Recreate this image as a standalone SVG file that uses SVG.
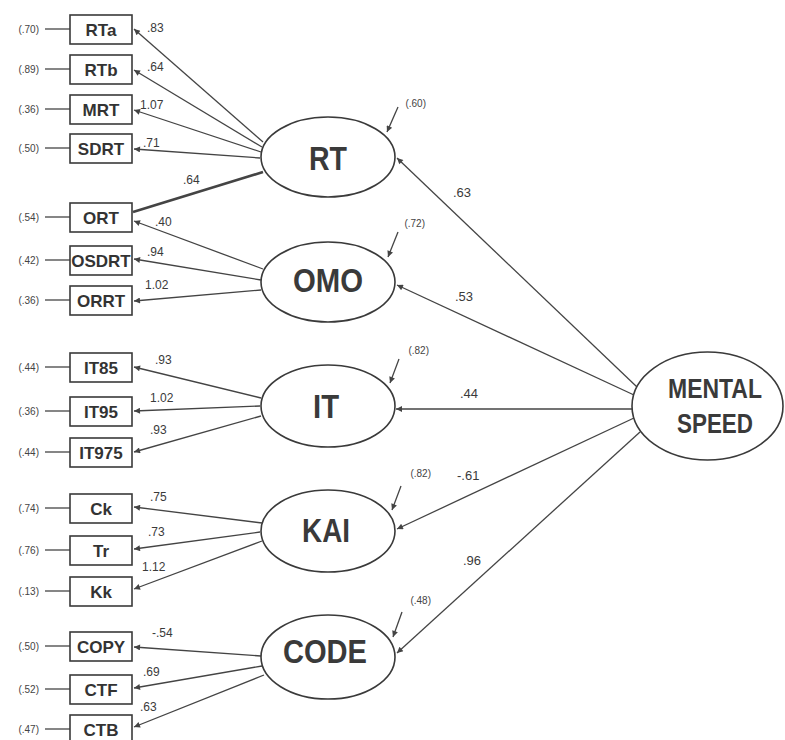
<svg xmlns="http://www.w3.org/2000/svg" width="785" height="740" viewBox="0 0 785 740">
<style>
.box{fill:#fff;stroke:#3a3a3a;stroke-width:1.6}
.lat{fill:#fff;stroke:#3a3a3a;stroke-width:1.6}
.ind{font-family:"Liberation Sans",Arial,sans-serif;font-weight:bold;font-size:17px;fill:#333;text-anchor:middle}
.lt{font-family:"Liberation Sans",Arial,sans-serif;font-weight:bold;font-size:34px;fill:#3a3a3a;text-anchor:middle}
.ms{font-family:"Liberation Sans",Arial,sans-serif;font-weight:bold;font-size:28px;fill:#3a3a3a;text-anchor:middle}
.err{font-family:"Liberation Sans",Arial,sans-serif;font-size:10px;fill:#444;text-anchor:end}
.ld{font-family:"Liberation Sans",Arial,sans-serif;font-size:12px;fill:#3a3a3a}
.sl{font-family:"Liberation Sans",Arial,sans-serif;font-size:13px;fill:#3a3a3a}
.c{stroke:#444;stroke-width:1.3;fill:none}
.a{marker-end:url(#ah)}
</style>
<defs>
<marker id="ah" viewBox="0 0 10 10" refX="10" refY="5" markerWidth="9" markerHeight="6" orient="auto" markerUnits="userSpaceOnUse"><path d="M0,0 L10,5 L0,10 z" fill="#444"/></marker>
</defs>
<rect width="785" height="740" fill="#fff"/>
<g id="connectors">
<!-- error lines -->
<line class="c" x1="45" y1="29" x2="70" y2="29"/>
<line class="c" x1="45" y1="69" x2="70" y2="69"/>
<line class="c" x1="45" y1="109" x2="70" y2="109"/>
<line class="c" x1="45" y1="148" x2="70" y2="148"/>
<line class="c" x1="45" y1="217" x2="70" y2="217"/>
<line class="c" x1="45" y1="260" x2="70" y2="260"/>
<line class="c" x1="45" y1="300" x2="70" y2="300"/>
<line class="c" x1="45" y1="367" x2="70" y2="367"/>
<line class="c" x1="45" y1="411" x2="70" y2="411"/>
<line class="c" x1="45" y1="452" x2="70" y2="452"/>
<line class="c" x1="45" y1="508" x2="70" y2="508"/>
<line class="c" x1="45" y1="550" x2="70" y2="550"/>
<line class="c" x1="45" y1="591" x2="70" y2="591"/>
<line class="c" x1="45" y1="646" x2="70" y2="646"/>
<line class="c" x1="45" y1="689" x2="70" y2="689"/>
<line class="c" x1="45" y1="729" x2="70" y2="729"/>
<!-- RT loadings -->
<line class="c a" x1="263" y1="142" x2="134" y2="29"/>
<line class="c a" x1="262" y1="147" x2="134" y2="70"/>
<line class="c a" x1="261" y1="152" x2="134" y2="110"/>
<line class="c a" x1="260" y1="158" x2="134" y2="149"/>
<line class="c" style="stroke-width:2.6" x1="263" y1="172" x2="133" y2="212"/>
<!-- OMO loadings -->
<line class="c a" x1="263" y1="269" x2="134" y2="221"/>
<line class="c a" x1="261" y1="280" x2="134" y2="259"/>
<line class="c a" x1="261" y1="290" x2="134" y2="301"/>
<!-- IT loadings -->
<line class="c a" x1="261" y1="398" x2="134" y2="367"/>
<line class="c a" x1="260" y1="406" x2="134" y2="411"/>
<line class="c a" x1="261" y1="416" x2="134" y2="452"/>
<!-- KAI loadings -->
<line class="c a" x1="262" y1="523" x2="134" y2="507"/>
<line class="c a" x1="260" y1="532" x2="134" y2="549"/>
<line class="c a" x1="262" y1="541" x2="134" y2="589"/>
<!-- CODE loadings -->
<line class="c a" x1="261" y1="656" x2="134" y2="647"/>
<line class="c a" x1="262" y1="666" x2="134" y2="688"/>
<line class="c a" x1="264" y1="675" x2="134" y2="727"/>
<!-- structural paths -->
<line class="c a" x1="637" y1="387" x2="397" y2="158"/>
<line class="c a" x1="634" y1="395" x2="397" y2="285"/>
<line class="c a" x1="632" y1="409" x2="396" y2="409"/>
<line class="c a" x1="634" y1="418" x2="397" y2="529"/>
<line class="c a" x1="640" y1="432" x2="397" y2="653"/>
<!-- disturbances -->
<line class="c a" x1="398" y1="107" x2="387" y2="132"/>
<line class="c a" x1="398" y1="232" x2="388" y2="257"/>
<line class="c a" x1="399" y1="359" x2="390" y2="383"/>
<line class="c a" x1="401" y1="486" x2="392" y2="510"/>
<line class="c a" x1="402" y1="612" x2="393" y2="637"/>
<!-- loading labels -->
<text class="ld" x="147" y="32">.83</text>
<text class="ld" x="147" y="71">.64</text>
<text class="ld" x="140" y="109">1.07</text>
<text class="ld" x="143" y="147">.71</text>
<text class="ld" x="183" y="184">.64</text>
<text class="ld" x="155" y="226">.40</text>
<text class="ld" x="147" y="256">.94</text>
<text class="ld" x="145" y="289">1.02</text>
<text class="ld" x="155" y="364">.93</text>
<text class="ld" x="150" y="402">1.02</text>
<text class="ld" x="150" y="434">.93</text>
<text class="ld" x="150" y="501">.75</text>
<text class="ld" x="148" y="536">.73</text>
<text class="ld" x="142" y="571">1.12</text>
<text class="ld" x="152" y="637">-.54</text>
<text class="ld" x="143" y="676">.69</text>
<text class="ld" x="140" y="711">.63</text>
<text class="sl" x="453" y="197">.63</text>
<text class="sl" x="455" y="301">.53</text>
<text class="sl" x="460" y="398">.44</text>
<text class="sl" x="457" y="480">-.61</text>
<text class="sl" x="463" y="565">.96</text>
<!-- error and disturbance values -->
<text class="err" x="39" y="33">(.70)</text>
<text class="err" x="39" y="73">(.89)</text>
<text class="err" x="39" y="113">(.36)</text>
<text class="err" x="39" y="152">(.50)</text>
<text class="err" x="39" y="221">(.54)</text>
<text class="err" x="39" y="264">(.42)</text>
<text class="err" x="39" y="304">(.36)</text>
<text class="err" x="39" y="371">(.44)</text>
<text class="err" x="39" y="415">(.36)</text>
<text class="err" x="39" y="456">(.44)</text>
<text class="err" x="39" y="512">(.74)</text>
<text class="err" x="39" y="554">(.76)</text>
<text class="err" x="39" y="595">(.13)</text>
<text class="err" x="39" y="650">(.50)</text>
<text class="err" x="39" y="693">(.52)</text>
<text class="err" x="39" y="733">(.47)</text>
<text class="err" x="426" y="107">(.60)</text>
<text class="err" x="425" y="227">(.72)</text>
<text class="err" x="429" y="354">(.82)</text>
<text class="err" x="431" y="477">(.82)</text>
<text class="err" x="431" y="604">(.48)</text>
</g>
<g id="n-RTa"><rect class="box" x="70" y="15" width="62" height="29"/><text class="ind" x="101" y="35.5">RTa</text></g>
<g id="n-RTb"><rect class="box" x="70" y="55" width="62" height="29"/><text class="ind" x="101" y="75.5">RTb</text></g>
<g id="n-MRT"><rect class="box" x="70" y="95" width="62" height="29"/><text class="ind" x="101" y="115.5">MRT</text></g>
<g id="n-SDRT"><rect class="box" x="70" y="134" width="62" height="29"/><text class="ind" x="101" y="154.5">SDRT</text></g>
<g id="n-ORT"><rect class="box" x="70" y="203" width="62" height="29"/><text class="ind" x="101" y="223.5">ORT</text></g>
<g id="n-OSDRT"><rect class="box" x="70" y="246" width="62" height="29"/><text class="ind" x="101" y="266.5">OSDRT</text></g>
<g id="n-ORRT"><rect class="box" x="70" y="286" width="62" height="29"/><text class="ind" x="101" y="306.5">ORRT</text></g>
<g id="n-IT85"><rect class="box" x="70" y="353" width="62" height="29"/><text class="ind" x="101" y="373.5">IT85</text></g>
<g id="n-IT95"><rect class="box" x="70" y="397" width="62" height="29"/><text class="ind" x="101" y="417.5">IT95</text></g>
<g id="n-IT975"><rect class="box" x="70" y="438" width="62" height="29"/><text class="ind" x="101" y="458.5">IT975</text></g>
<g id="n-Ck"><rect class="box" x="70" y="494" width="62" height="29"/><text class="ind" x="101" y="514.5">Ck</text></g>
<g id="n-Tr"><rect class="box" x="70" y="536" width="62" height="29"/><text class="ind" x="101" y="556.5">Tr</text></g>
<g id="n-Kk"><rect class="box" x="70" y="577" width="62" height="29"/><text class="ind" x="101" y="597.5">Kk</text></g>
<g id="n-COPY"><rect class="box" x="70" y="632" width="62" height="29"/><text class="ind" x="101" y="652.5">COPY</text></g>
<g id="n-CTF"><rect class="box" x="70" y="675" width="62" height="29"/><text class="ind" x="101" y="695.5">CTF</text></g>
<g id="n-CTB"><rect class="box" x="70" y="715" width="62" height="29"/><text class="ind" x="101" y="735.5">CTB</text></g>
<g id="n-RT"><ellipse class="lat" cx="328" cy="157" rx="67" ry="40"/><text class="lt" x="328" y="170" textLength="38" lengthAdjust="spacingAndGlyphs">RT</text></g>
<g id="n-OMO"><ellipse class="lat" cx="328" cy="282" rx="67" ry="40"/><text class="lt" x="328" y="292" textLength="70" lengthAdjust="spacingAndGlyphs">OMO</text></g>
<g id="n-IT"><ellipse class="lat" cx="328" cy="406" rx="67" ry="41"/><text class="lt" x="326" y="418" textLength="26" lengthAdjust="spacingAndGlyphs">IT</text></g>
<g id="n-KAI"><ellipse class="lat" cx="328" cy="531" rx="67" ry="41"/><text class="lt" x="326" y="542" textLength="48" lengthAdjust="spacingAndGlyphs">KAI</text></g>
<g id="n-CODE"><ellipse class="lat" cx="328" cy="657" rx="67" ry="42"/><text class="lt" x="325" y="663" textLength="84" lengthAdjust="spacingAndGlyphs">CODE</text></g>
<g id="n-MENTALSPEED"><ellipse class="lat" cx="707.5" cy="406" rx="75.5" ry="54"/><text class="ms" x="715" y="398" textLength="94" lengthAdjust="spacingAndGlyphs">MENTAL</text><text class="ms" x="715" y="433" textLength="76" lengthAdjust="spacingAndGlyphs">SPEED</text></g>
</svg>
